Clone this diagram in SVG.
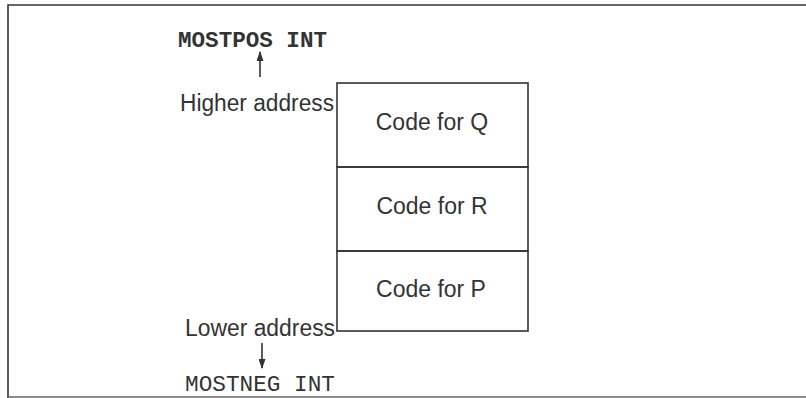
<svg xmlns="http://www.w3.org/2000/svg" width="806" height="398" viewBox="0 0 806 398">
<defs>
<style>
.lbl{font-family:"Liberation Sans",Arial,sans-serif;font-size:23px;fill:#333}
.mono{font-family:"Liberation Mono","Courier New",monospace;font-size:22px;fill:#333}
.ln{stroke:#333;stroke-width:1.6;fill:none}
</style>
<marker id="ah" viewBox="0 0 10 7" refX="9" refY="3.5" markerWidth="10" markerHeight="7" orient="auto" markerUnits="userSpaceOnUse">
<path d="M0,0 L10,3.5 L0,7 Z" fill="#333"/>
</marker>
</defs>
<rect width="806" height="398" fill="#fff"/>
<g id="frame">
<path class="ln" d="M8,398 L8,5 L806,5"/>
<path d="M8,397 L806,397" stroke="#666" stroke-width="1.5" fill="none"/>
</g>
<g id="labels">
<text class="mono" x="178" y="47" font-weight="bold" textLength="149" lengthAdjust="spacingAndGlyphs">MOSTPOS INT</text>
<text class="lbl" x="180" y="111" textLength="154" lengthAdjust="spacingAndGlyphs">Higher address</text>
<text class="lbl" x="185" y="336" textLength="150" lengthAdjust="spacingAndGlyphs">Lower address</text>
<text class="mono" x="185" y="391" textLength="150" lengthAdjust="spacingAndGlyphs">MOSTNEG INT</text>
</g>
<g id="nodeQ">
<rect class="ln" x="337" y="83" width="191" height="84"/>
<text class="lbl" x="432" y="130" text-anchor="middle">Code for Q</text>
</g>
<g id="nodeR">
<rect class="ln" x="337" y="167" width="191" height="84"/>
<text class="lbl" x="432" y="214" text-anchor="middle">Code for R</text>
</g>
<g id="nodeP">
<rect class="ln" x="337" y="251" width="191" height="80"/>
<text class="lbl" x="431" y="297" text-anchor="middle">Code for P</text>
</g>
<g id="connectors">
<line class="ln" x1="260" y1="77" x2="260" y2="52" marker-end="url(#ah)"/>
<line class="ln" x1="262" y1="343" x2="262" y2="368" marker-end="url(#ah)"/>
</g>
</svg>
